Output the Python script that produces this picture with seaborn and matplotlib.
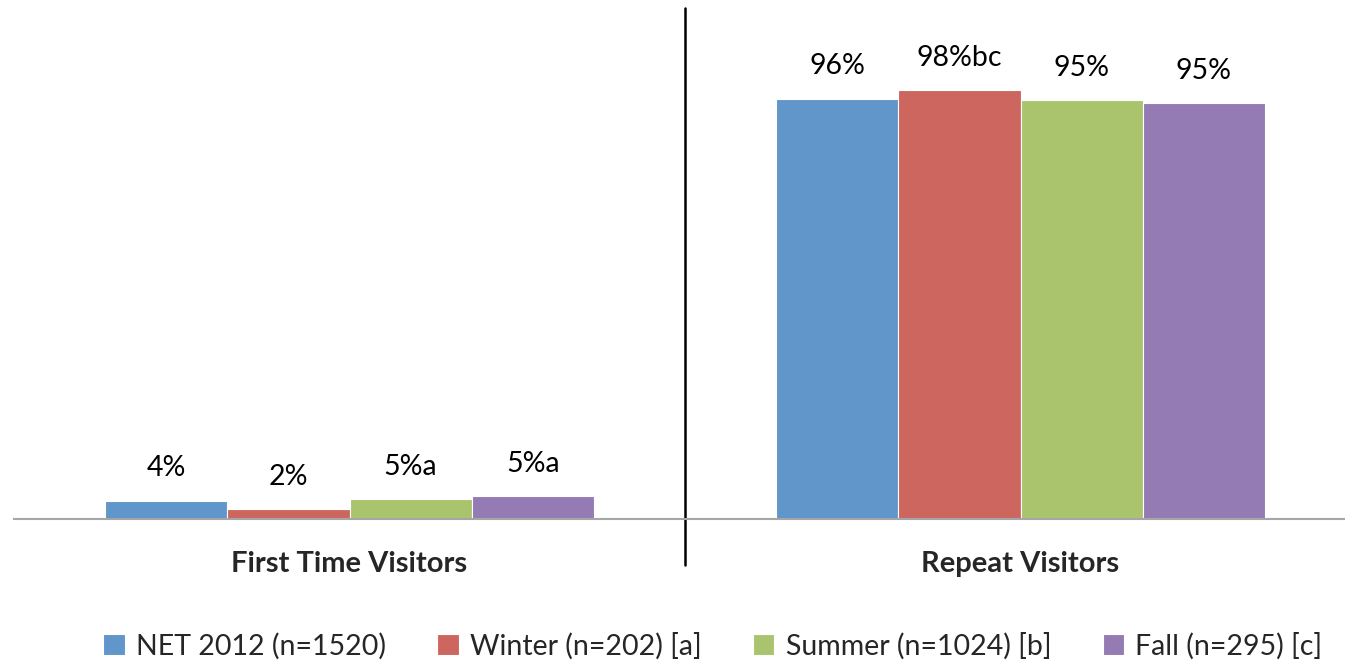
import pandas as pd
import matplotlib
matplotlib.use("Agg")
import matplotlib.pyplot as plt
import seaborn as sns

# ---------------------------
# Data
# ---------------------------
categories = ["First Time Visitors", "Repeat Visitors"]
series = ["NET 2012 (n=1520)", "Winter (n=202) [a]", "Summer (n=1024) [b]", "Fall (n=295) [c]"]
first_time = [4.2, 2.2, 4.5, 5.2]
repeat = [95.8, 97.8, 95.5, 94.8]
first_labels = ["4%", "2%", "5%a", "5%a"]
repeat_labels = ["96%", "98%bc", "95%", "95%"]
colors = ["#6096C9", "#CE6660", "#AAC46E", "#957BB3"]

df = pd.DataFrame({
    "category": [categories[0]] * 4 + [categories[1]] * 4,
    "series": series * 2,
    "value": first_time + repeat,
})

# ---------------------------
# Plot
# ---------------------------
sns.set_theme(style="white")
plt.rcParams["font.family"] = ["Lato", "DejaVu Sans"]

fig = plt.figure(figsize=(13.45, 6.6), dpi=100)
ax = fig.add_axes([14 / 1345, 141 / 660, 1342 / 1345, 511 / 660])

sns.barplot(
    data=df, x="category", y="value", hue="series",
    palette=colors, width=0.728, edgecolor="white", linewidth=0.8,
    saturation=1, ax=ax, legend=True,
)

ax.set_xlim(-0.5, 1.5)
ax.set_ylim(0, 116.5)

# value labels
for i, cont in enumerate(ax.containers):
    labs = [first_labels[i], repeat_labels[i]]
    ax.bar_label(cont, labels=labs, padding=14, fontsize=20.5, color="#000000")

for side in ["top", "right", "left"]:
    ax.spines[side].set_visible(False)
ax.spines["bottom"].set_color("#A6A6A6")
ax.spines["bottom"].set_linewidth(1.5)

ax.set_yticks([])
ax.set_xlabel("")
ax.set_ylabel("")
ax.tick_params(axis="x", which="major", length=0, pad=23, labelsize=21)
for t in ax.get_xticklabels():
    t.set_fontweight("bold")
ax.set_xticks([-0.5, 0.5, 1.5], minor=True)
ax.tick_params(axis="x", which="minor", length=8, width=1.5, color="#A6A6A6", direction="out")

# separator between groups
ax.axvline(0.5, ymin=-0.09, ymax=1.0, color="black", linewidth=1.8, clip_on=False)

handles, labels = ax.get_legend_handles_labels()
ax.legend_.remove()
fig.legend(
    handles, labels, loc="center", bbox_to_anchor=(713 / 1345, 14 / 660),
    ncol=4, frameon=False, fontsize=20.5, handlelength=0.75, handleheight=0.75,
    handletextpad=0.4, columnspacing=1.8,
)

fig.savefig("out.png", dpi=100)
